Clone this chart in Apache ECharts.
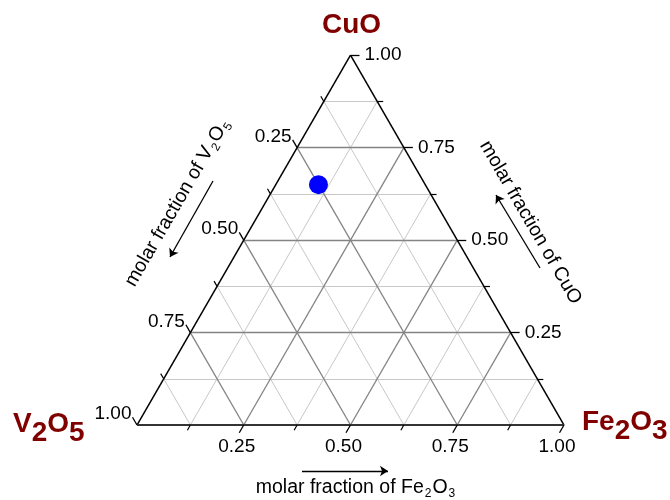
<!DOCTYPE html>
<html>
<head>
<meta charset="utf-8">
<script src="https://cdn.jsdelivr.net/npm/echarts@6/dist/echarts.min.js"></script>
<style>
  html, body { margin: 0; padding: 0; background: #fff; }
  #chart { width: 670px; height: 500px; }
</style>
</head>
<body>
<div id="chart"></div>
<script>
// Ternary diagram: V2O5 (bottom-left), Fe2O3 (bottom-right), CuO (top)
const tickValues = [0.25, 0.5, 0.75, 1.0];
const tickLabels = ['0.25', '0.50', '0.75', '1.00'];
const minorTickValues = [0.125, 0.375, 0.625, 0.875];
const gridMajor = [0.25, 0.5, 0.75];
const gridMinor = [0.125, 0.375, 0.625, 0.875];

// measured sample composition (molar fractions)
const sampleCuO = [0.65];
const sampleV2O5 = [0.25];
const sampleFe2O3 = [0.10];

// ---- layout ----
const W = 670, HGT = 500;
const ORIGIN = [137, 425];   // pixel position of the V2O5 corner
const SIDE = 427;            // triangle side in pixels
const PX = 1 / SIDE;         // one pixel in data units
const H = Math.sqrt(3) / 2;
const FONT = '"Liberation Sans", Arial, sans-serif';
const DARKRED = '#800000';

// ternary (CuO, Fe2O3) -> cartesian; V2O5 is the remainder
function tern(cuo, fe) { return [fe + cuo / 2, cuo * H]; }

const seg = (a, b) => ({ coords: [a, b] });

// grid lines of constant composition
function gridLines(vals) {
  const out = [];
  vals.forEach(t => {
    out.push(seg(tern(t, 0), tern(t, 1 - t)));       // constant CuO
    out.push(seg(tern(0, t), tern(1 - t, t)));       // constant Fe2O3
    out.push(seg(tern(1 - t, 0), tern(0, 1 - t)));   // constant V2O5
  });
  return out;
}

// tick marks, pointing outward along the grid direction
function ticks(vals, len) {
  const L = len * PX, out = [];
  vals.forEach(t => {
    const b = tern(0, t);                 // Fe2O3 axis (bottom)
    out.push(seg(b, [b[0] - 0.5 * L, b[1] - H * L]));
    const l = tern(1 - t, 0);             // V2O5 axis (left)
    out.push(seg(l, [l[0] - 0.5 * L, l[1] + H * L]));
    const r = tern(t, 1 - t);             // CuO axis (right)
    out.push(seg(r, [r[0] + L, r[1]]));
  });
  return out;
}

const labelBase = { fontFamily: FONT, fontSize: 19, color: '#000', opacity: 1 };
const tickLabelData = [];
tickValues.forEach((t, i) => {
  tickLabelData.push({ value: tern(0, t), text: tickLabels[i],
    label: Object.assign({ align: 'center', verticalAlign: 'middle', offset: [-7, 22] }, labelBase) });
  tickLabelData.push({ value: tern(1 - t, 0), text: tickLabels[i],
    label: Object.assign({ align: 'right', verticalAlign: 'middle', offset: [-5.5, -11] }, labelBase) });
  tickLabelData.push({ value: tern(t, 1 - t), text: tickLabels[i],
    label: Object.assign({ align: 'left', verticalAlign: 'middle', offset: [14, 0] }, labelBase) });
});

// text anchors in data space (relative to the triangle)
const toData = (px, py) => [(px - ORIGIN[0]) * PX, (ORIGIN[1] - py) * PX];

const vertexRich = {
  m: { fontFamily: FONT, fontSize: 28, fontWeight: 'bold', color: DARKRED },
  s: { fontFamily: FONT, fontSize: 28, fontWeight: 'bold', color: DARKRED, padding: [18, 0, 0, 0] }
};
const titleRich = {
  t: { fontFamily: FONT, fontSize: 19.5, color: '#000' },
  s: { fontFamily: FONT, fontSize: 12, color: '#000', padding: [12, 1, 0, 1] }
};

const textData = [
  { value: toData(351.5, 25), text: '{m|CuO}', label: { align: 'center', verticalAlign: 'middle', rich: vertexRich } },
  { value: toData(13, 424), text: '{m|V}{s|2}{m|O}{s|5}', label: { align: 'left', verticalAlign: 'middle', rich: vertexRich } },
  { value: toData(582, 422.5), text: '{m|Fe}{s|2}{m|O}{s|3}', label: { align: 'left', verticalAlign: 'middle', rich: vertexRich } },
  { value: toData(356, 488), text: '{t|molar fraction of Fe}{s|2}{t|O}{s|3}', label: { align: 'center', verticalAlign: 'middle', rich: titleRich } },
  { value: toData(177.5, 202.5), text: '{t|molar fraction of V}{s|2}{t|O}{s|5}', label: { align: 'center', verticalAlign: 'middle', rotate: 60, rich: titleRich } },
  { value: toData(530.5, 222.5), text: '{t|molar fraction of CuO}', label: { align: 'center', verticalAlign: 'middle', rotate: -60, rich: titleRich } }
];

const arrows = [
  seg(toData(302, 471), toData(388, 471)),
  seg(toData(213, 181), toData(170, 257)),
  seg(toData(540, 268), toData(496, 195))
];

const edgesSide = [seg(tern(0, 0), tern(1, 0)), seg(tern(0, 1), tern(1, 0))];
const edgeBottom = [seg(tern(0, 0), tern(0, 1))];

const samplePoints = sampleCuO.map((c, i) => tern(c, sampleFe2O3[i]));

const textItem = { color: 'rgba(0,0,0,0)', opacity: 1 };

const chart = echarts.init(document.getElementById('chart'), null, { renderer: 'canvas' });
chart.setOption({
  animation: false,
  backgroundColor: '#fff',
  grid: { left: 0, right: 0, top: 0, bottom: 0 },
  xAxis: { type: 'value', min: -ORIGIN[0] * PX, max: (W - ORIGIN[0]) * PX, show: false },
  yAxis: { type: 'value', min: -(HGT - ORIGIN[1]) * PX, max: ORIGIN[1] * PX, show: false },
  series: [
    { type: 'lines', coordinateSystem: 'cartesian2d', silent: true, z: 1,
      lineStyle: { color: '#c8c8c8', width: 1, opacity: 1 }, data: gridLines(gridMinor) },
    { type: 'lines', coordinateSystem: 'cartesian2d', silent: true, z: 2,
      lineStyle: { color: '#848484', width: 1.3, opacity: 1 }, data: gridLines(gridMajor) },
    { type: 'lines', coordinateSystem: 'cartesian2d', silent: true, z: 3,
      lineStyle: { color: '#000', width: 1.5, opacity: 1 }, data: edgesSide },
    { type: 'lines', coordinateSystem: 'cartesian2d', silent: true, z: 3,
      lineStyle: { color: '#333', width: 2.2, opacity: 1 }, data: edgeBottom },
    { type: 'lines', coordinateSystem: 'cartesian2d', silent: true, z: 3,
      lineStyle: { color: '#000', width: 1.3, opacity: 1 }, data: ticks(tickValues, 9) },
    { type: 'lines', coordinateSystem: 'cartesian2d', silent: true, z: 3,
      lineStyle: { color: '#000', width: 1.2, opacity: 1 }, data: ticks(minorTickValues, 6) },
    { type: 'lines', coordinateSystem: 'cartesian2d', silent: true, z: 3,
      symbol: ['none', 'arrow'], symbolSize: 8,
      lineStyle: { color: '#000', width: 1.3, opacity: 1 }, data: arrows },
    { type: 'scatter', silent: true, z: 4, symbolSize: 1, itemStyle: textItem,
      label: { show: true, position: 'inside', opacity: 1, formatter: p => p.data.text }, data: tickLabelData },
    { type: 'scatter', silent: true, z: 4, symbolSize: 1, itemStyle: textItem,
      label: { show: true, position: 'inside', opacity: 1, formatter: p => p.data.text }, data: textData },
    { type: 'scatter', silent: true, z: 5, symbolSize: 19, itemStyle: { color: '#0000ff', opacity: 1 },
      data: samplePoints }
  ]
});
</script>
</body>
</html>
